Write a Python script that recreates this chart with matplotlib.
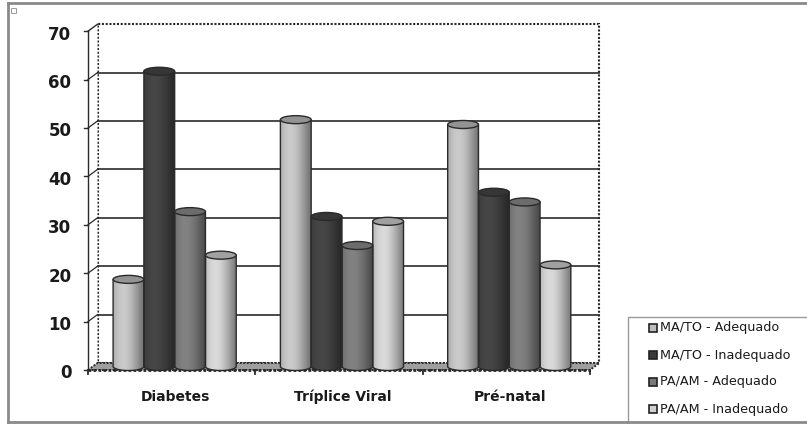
import numpy as np
import matplotlib
matplotlib.use("Agg")
import matplotlib.pyplot as plt
from matplotlib.patches import Polygon, Ellipse, PathPatch, Rectangle
from matplotlib.path import Path
from matplotlib.lines import Line2D

# ---- data ----
categories = ["Diabetes", "Tríplice Viral", "Pré-natal"]
series_names = ["MA/TO - Adequado", "MA/TO - Inadequado",
                "PA/AM - Adequado", "PA/AM - Inadequado"]
ma_to_adequado = [18, 51, 50]
ma_to_inadequado = [61, 31, 36]
pa_am_adequado = [32, 25, 34]
pa_am_inadequado = [23, 30, 21]
y_ticks = [0, 10, 20, 30, 40, 50, 60, 70]

series_values = [ma_to_adequado, ma_to_inadequado, pa_am_adequado, pa_am_inadequado]
body_colors = ["#b8b8b8", "#404040", "#767676", "#c6c6c6"]
cap_colors = ["#939393", "#363636", "#6c6c6c", "#a0a0a0"]
legend_colors = ["#bdbdbd", "#3a3a3a", "#7a7a7a", "#d0d0d0"]

W_PX, H_PX = 807, 424
fig = plt.figure(figsize=(W_PX / 100, H_PX / 100), dpi=100)
ax = fig.add_axes([0, 0, 1, 1])
ax.set_autoscale_on(False)

# pixel scale of the chart's category/value axes
PX_PER_CAT = 167.3
PX_PER_UNIT = 4.84
X0_PX, Y0_PX = 88, 370
ax.set_xlim(-X0_PX / PX_PER_CAT, (W_PX - X0_PX) / PX_PER_CAT)
ax.set_ylim((Y0_PX - H_PX) / PX_PER_UNIT, Y0_PX / PX_PER_UNIT)
ax.axis("off")

DX = 9.5 / PX_PER_CAT     # depth offset (x)
DY = 7.0 / PX_PER_UNIT    # depth offset (y)
NCAT = len(categories)
YMAX = 70
EDGE = "#2a2a2a"
DOT = (0, (1, 0.8))

# ---- walls and floor ----
back = Rectangle((DX, DY), NCAT, YMAX, fc="white", ec=EDGE, lw=1.5,
                 ls=DOT, zorder=1)
ax.add_patch(back)
left = Polygon([(0, 0), (DX, DY), (DX, YMAX + DY), (0, YMAX)], closed=True,
               fc="white", ec="none", zorder=1)
ax.add_patch(left)
floor = Polygon([(0, 0), (DX, DY), (NCAT + DX, DY), (NCAT, 0)], closed=True,
                fc="#9e9e9e", ec=EDGE, lw=1.4, ls=DOT, zorder=2)
ax.add_patch(floor)
ax.plot([0, NCAT], [0, 0], color=EDGE, lw=2.0, ls=DOT, zorder=3)

# front value axis with ticks and gridlines
ax.plot([0, 0], [0, YMAX], color=EDGE, lw=1.0, zorder=3)
ax.plot([0, DX], [YMAX, YMAX + DY], color=EDGE, lw=1.0, zorder=3)
for v in y_ticks:
    if 0 < v < YMAX:
        ax.plot([DX, NCAT + DX], [v + DY, v + DY], color=EDGE, lw=1.2, zorder=1.5)
        ax.plot([0, DX], [v, v + DY], color=EDGE, lw=0.9, zorder=1.5)
    ax.plot([-0.022, 0], [v, v], color=EDGE, lw=1.0, zorder=3)
    ax.text(-0.1, v - 0.7, str(v), ha="right", va="center",
            fontsize=12, fontweight="bold", color="#1a1a1a", family="DejaVu Sans")

# category ticks and labels
for i in range(NCAT + 1):
    ax.plot([i, i], [0, -0.9], color=EDGE, lw=1.3, zorder=3)
for i, name in enumerate(categories):
    ax.text(i + 0.52, -5.6, name, ha="center", va="center", fontsize=10,
            fontweight="bold", color="#1a1a1a", family="DejaVu Sans")

# ---- cylinders ----
BAR_W = 0.184
START = 0.150
BASE = DY / 2
EH = 8.0 / PX_PER_UNIT
t = np.linspace(0, 1, 64)
shade = np.clip(0.80 + 0.30 * np.cos((t - 0.33) * np.pi * 1.05), 0, 1.2)


def hex_rgb(c):
    c = c.lstrip("#")
    return np.array([int(c[k:k + 2], 16) / 255 for k in (0, 2, 4)])


for j, vals in enumerate(series_values):
    base_rgb = hex_rgb(body_colors[j])
    grad = np.clip(base_rgb[None, None, :] * shade[None, :, None], 0, 1)
    for i, v in enumerate(vals):
        x = i + START + j * BAR_W
        top = BASE + v
        th = np.linspace(np.pi, 2 * np.pi, 30)
        bottom = [(x + BAR_W / 2 + BAR_W / 2 * np.cos(a), BASE + EH / 2 * np.sin(a))
                  for a in th]
        verts = [(x, top), (x + BAR_W, top)] + bottom[::-1] + [(x, top)]
        path = Path(verts, closed=True)
        body = PathPatch(path, fc="none", ec="none", zorder=4 + j * 0.01)
        ax.add_patch(body)
        im = ax.imshow(grad, extent=[x, x + BAR_W, BASE - EH, top],
                       aspect="auto", interpolation="bicubic",
                       zorder=4 + j * 0.01)
        im.set_clip_path(body)
        outline = PathPatch(path, fc="none", ec=EDGE, lw=1.0,
                            zorder=4.5 + j * 0.01)
        ax.add_patch(outline)
        cap = Ellipse((x + BAR_W / 2, top), BAR_W, EH, fc=cap_colors[j],
                      ec=EDGE, lw=1.0, zorder=4.6 + j * 0.01)
        ax.add_patch(cap)

ax.set_xlim(-X0_PX / PX_PER_CAT, (W_PX - X0_PX) / PX_PER_CAT)
ax.set_ylim((Y0_PX - H_PX) / PX_PER_UNIT, Y0_PX / PX_PER_UNIT)


# ---- legend and frame (figure pixel coordinates) ----
def fx(px):
    return px / W_PX


def fy(py):
    return 1 - py / H_PX


frame_col = "#8a8a8a"
fig.add_artist(Line2D([fx(8), fx(W_PX)], [fy(3), fy(3)], color=frame_col, lw=2))
fig.add_artist(Line2D([fx(8), fx(8)], [fy(3), fy(422)], color=frame_col, lw=2))
fig.add_artist(Line2D([fx(8), fx(W_PX)], [fy(422), fy(422)], color=frame_col, lw=2))
fig.add_artist(Rectangle((fx(11), fy(13)), fx(5), 5 / H_PX, fc="white",
                         ec="#9a9a9a", lw=0.7))

fig.add_artist(Rectangle((fx(628), fy(430)), fx(200), 113 / H_PX,
                         fc="white", ec="#9a9a9a", lw=1.0))
leg_y = [328, 355, 382, 409]
for k, name in enumerate(series_names):
    fig.add_artist(Rectangle((fx(649), fy(leg_y[k] + 4)), fx(8), 8 / H_PX,
                             fc=legend_colors[k], ec="#222222", lw=1.2))
    fig.text(fx(660), fy(leg_y[k]), name, ha="left", va="center",
             fontsize=9.2, color="#1a1a1a", family="DejaVu Sans")

fig.savefig("out.png", dpi=100)
